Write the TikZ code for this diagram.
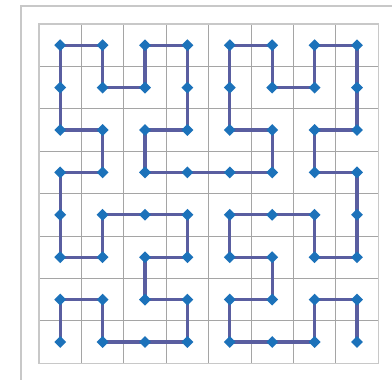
\documentclass[tikz,border=0pt]{standalone}
\usetikzlibrary{shapes.geometric}
\definecolor{framegray}{RGB}{200,200,200}
\definecolor{gridgray}{RGB}{165,165,165}
\definecolor{curveline}{RGB}{90,94,160}
\definecolor{markblue}{RGB}{28,114,186}
\tikzset{
  framelines/.style={draw=framegray, line width=1.3pt},
  gridlines/.style={draw=gridgray, line width=0.8pt},
  curve/.style={draw=curveline, line width=3.3pt, line join=miter},
  pt/.style={diamond, fill=markblue, inner sep=0pt, minimum width=12pt, minimum height=12pt}
}
\begin{document}
\begin{tikzpicture}[x=1pt,y=-1pt]
\useasboundingbox (0,0) rectangle (392,380);
\fill[white] (0,0) rectangle (392,380);
% outer frame (top and left)
\coordinate (fa) at (21,380);
\coordinate (fb) at (21,6);
\coordinate (fc) at (392,6);
\draw[framelines] (fa) -- (fb) -- (fc);
% grid
\def\gx{39}\def\gy{24}\def\cs{42.4}
\foreach \i in {1,...,7}{
  \draw[gridlines] (\gx+\i*\cs,\gy) -- (\gx+\i*\cs,\gy+8*\cs);
  \draw[gridlines] (\gx,\gy+\i*\cs) -- (\gx+8*\cs,\gy+\i*\cs);
}
\draw[draw=framegray, line width=1.1pt] (\gx,\gy) rectangle (\gx+8*\cs,\gy+8*\cs);
% Hilbert curve points
\def\pathlist{0/7,0/6,1/6,1/7,2/7,3/7,3/6,2/6,2/5,3/5,3/4,2/4,1/4,1/5,0/5,0/4,0/3,1/3,1/2,0/2,0/1,0/0,1/0,1/1,2/1,2/0,3/0,3/1,3/2,2/2,2/3,3/3,4/3,5/3,5/2,4/2,4/1,4/0,5/0,5/1,6/1,6/0,7/0,7/1,7/2,6/2,6/3,7/3,7/4,7/5,6/5,6/4,5/4,4/4,4/5,5/5,5/6,4/6,4/7,5/7,6/7,6/6,7/6,7/7}
\foreach [count=\k] \c/\r in \pathlist {
  \coordinate (p\k) at (\gx+\c*\cs+0.5*\cs,\gy+\r*\cs+0.5*\cs);
}
\foreach \k [remember=\k as \j (initially 1)] in {2,...,64}{
  \draw[curve, line cap=round] (p\j) -- (p\k);
}
\foreach \k in {1,...,64}{
  \node[pt] (m\k) at (p\k) {};
}
\end{tikzpicture}
\end{document}
